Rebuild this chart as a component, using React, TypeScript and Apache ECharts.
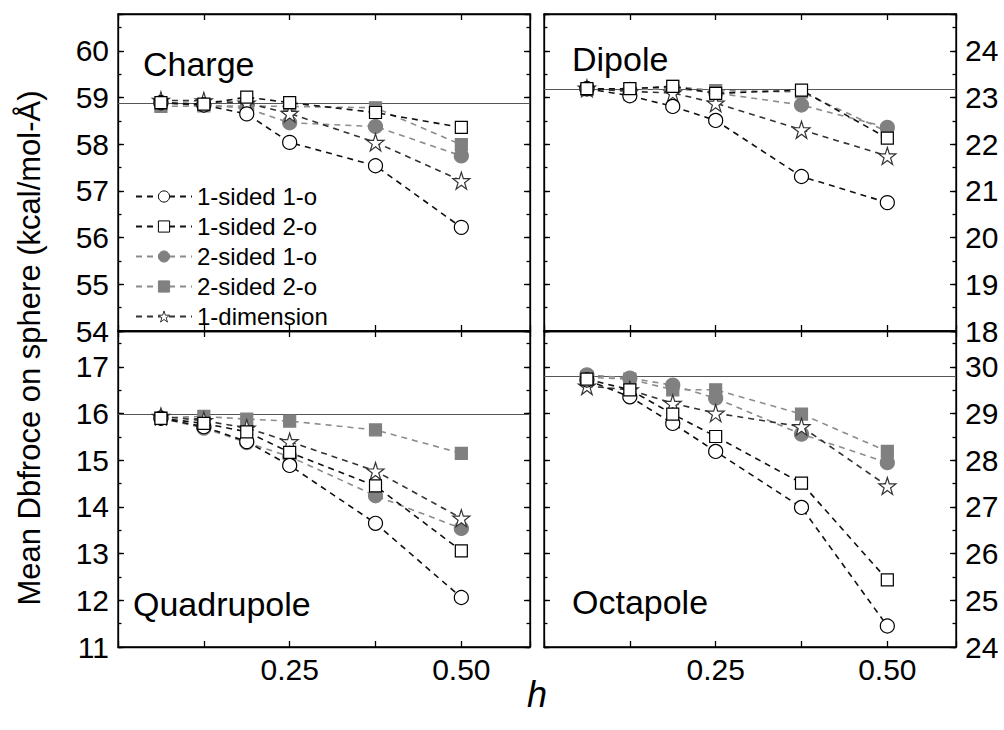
import React, { useEffect, useRef } from 'react';
import * as echarts from 'echarts';

// ---------- data ----------
const hValues = [0.0625, 0.125, 0.1875, 0.25, 0.375, 0.5];
const seriesNames = ['1-sided 1-o', '1-sided 2-o', '2-sided 1-o', '2-sided 2-o', '1-dimension'];
const panelTitles = ['Charge', 'Dipole', 'Quadrupole', 'Octapole'];

const charge1s1o = [58.89, 58.84, 58.65, 58.04, 57.54, 56.22];
const charge1s2o = [58.89, 58.86, 59.01, 58.89, 58.68, 58.36];
const charge2s1o = [58.88, 58.84, 58.77, 58.46, 58.38, 57.75];
const charge2s2o = [58.81, 58.82, 58.82, 58.81, 58.78, 57.99];
const charge1d = [58.94, 58.93, 58.88, 58.66, 58.04, 57.22];

const dipole1s1o = [23.19, 23.04, 22.81, 22.51, 21.31, 20.75];
const dipole1s2o = [23.19, 23.19, 23.24, 23.09, 23.16, 22.13];
const dipole2s1o = [23.19, 23.16, 23.2, 23.1, 22.84, 22.36];
const dipole2s2o = [23.17, 23.18, 23.24, 23.15, 23.12, 22.27];
const dipole1d = [23.2, 23.13, 23.1, 22.88, 22.31, 21.75];

const quad1s1o = [15.9, 15.72, 15.4, 14.89, 13.65, 12.06];
const quad1s2o = [15.9, 15.79, 15.61, 15.17, 14.45, 13.06];
const quad2s1o = [15.9, 15.69, 15.38, 15.08, 14.24, 13.54];
const quad2s2o = [15.91, 15.94, 15.88, 15.84, 15.65, 15.15];
const quad1d = [15.94, 15.85, 15.69, 15.4, 14.77, 13.76];

const oct1s1o = [29.72, 29.36, 28.79, 28.19, 26.99, 24.45];
const oct1s2o = [29.74, 29.51, 28.99, 28.51, 27.51, 25.44];
const oct2s1o = [29.83, 29.76, 29.61, 29.33, 28.56, 27.95];
const oct2s2o = [29.78, 29.74, 29.51, 29.51, 28.99, 28.19];
const oct1d = [29.59, 29.51, 29.22, 29.01, 28.72, 27.45];

const panelData = [
  [charge1s1o, charge1s2o, charge2s1o, charge2s2o, charge1d],
  [dipole1s1o, dipole1s2o, dipole2s1o, dipole2s2o, dipole1d],
  [quad1s1o, quad1s2o, quad2s1o, quad2s2o, quad1d],
  [oct1s1o, oct1s2o, oct2s1o, oct2s2o, oct1d],
];
const yMins = [54, 18, 11, 24];
const yMaxs = [60.79, 24.79, 17.77, 30.77];
const refLines = [58.88, 23.18, 15.98, 29.81];

// ---------- styles ----------
const FONT = '"Liberation Sans", Arial, Helvetica, sans-serif';
const STAR =
  'path://M50,2 L61.2,36.6 L97.6,36.6 L68.2,58 L79.4,92.6 L50,71.2 L20.6,92.6 L31.8,58 L2.4,36.6 L38.8,36.6 Z';
const seriesStyles = [
  { symbol: 'circle', size: 14, fill: '#ffffff', border: '#000000', line: '#111111' },
  { symbol: 'rect', size: 12, fill: '#ffffff', border: '#000000', line: '#111111' },
  { symbol: 'circle', size: 14, fill: '#808080', border: '#808080', line: '#8c8c8c' },
  { symbol: 'rect', size: 12, fill: '#808080', border: '#808080', line: '#8c8c8c' },
  { symbol: STAR, size: 17, fill: '#ffffff', border: '#333333', line: '#333333' },
];
const gridRects = [
  { left: 118, top: 14, width: 412, height: 317 },
  { left: 544, top: 14, width: 412, height: 317 },
  { left: 118, top: 331, width: 412, height: 316 },
  { left: 544, top: 331, width: 412, height: 316 },
];
const titlePos = [
  { x: 143, y: 64 },
  { x: 572, y: 59 },
  { x: 133, y: 604 },
  { x: 572, y: 602 },
];

const axisLineStyle = { color: '#000', width: 1.3 };

function intFormatter(v: number) {
  return Math.abs(v - Math.round(v)) < 1e-6 ? String(Math.round(v)) : '';
}
function hFormatter(v: number) {
  if (Math.abs(v - 0.25) < 1e-6) return '0.25';
  if (Math.abs(v - 0.5) < 1e-6) return '0.50';
  return '';
}

function buildOption() {
  const grid: any[] = [];
  const xAxis: any[] = [];
  const yAxis: any[] = [];
  const series: any[] = [];

  for (let p = 0; p < 4; p++) {
    grid.push({ ...gridRects[p], show: true, borderColor: '#000', borderWidth: 1.3, containLabel: false });
    for (const pos of ['bottom', 'top']) {
      xAxis.push({
        type: 'value',
        gridIndex: p,
        position: pos,
        min: 0,
        max: 0.6,
        interval: 0.125,
        axisLine: { onZero: false, lineStyle: axisLineStyle },
        axisTick: { inside: true, length: 6, lineStyle: axisLineStyle },
        axisLabel: {
          show: pos === 'bottom' && p >= 2,
          formatter: hFormatter,
          fontSize: 30,
          color: '#000',
          fontFamily: FONT,
          margin: 7,
        },
        splitLine: { show: false },
      });
    }
    for (const pos of ['left', 'right']) {
      const labeled = (pos === 'left' && p % 2 === 0) || (pos === 'right' && p % 2 === 1);
      yAxis.push({
        type: 'value',
        gridIndex: p,
        position: pos,
        min: yMins[p],
        max: yMaxs[p],
        interval: 1,
        axisLine: { onZero: false, lineStyle: axisLineStyle },
        axisTick: { inside: true, length: 6, lineStyle: axisLineStyle },
        axisLabel: {
          show: labeled,
          formatter: intFormatter,
          fontSize: 30,
          color: '#000',
          fontFamily: FONT,
          margin: 9,
        },
        splitLine: { show: false },
      });
    }
    for (const pos of ['left', 'right']) {
      yAxis.push({
        type: 'value',
        gridIndex: p,
        position: pos,
        min: yMins[p],
        max: yMaxs[p],
        interval: 0.5,
        axisLine: { show: false, onZero: false },
        axisTick: { inside: true, length: 3.5, lineStyle: axisLineStyle },
        axisLabel: { show: false },
        splitLine: { show: false },
      });
    }

    panelData[p].forEach((vals, s) => {
      const st = seriesStyles[s];
      const item: any = {
        type: 'line',
        name: seriesNames[s],
        xAxisIndex: 2 * p,
        yAxisIndex: 4 * p,
        data: hValues.map((h, i) => [h, vals[i]]),
        symbol: st.symbol,
        symbolSize: st.size,
        showAllSymbol: true,
        itemStyle: { color: st.fill, borderColor: st.border, borderWidth: 1.2 },
        lineStyle: { color: st.line, width: 1.6, type: [6, 5] },
        z: 3 + (s < 2 ? 1 : 0),
      };
      if (s === 0) {
        item.markLine = {
          silent: true,
          symbol: 'none',
          label: { show: false },
          lineStyle: { color: '#555', width: 1, type: 'solid' },
          data: [{ yAxis: refLines[p] }],
          z: 1,
        };
      }
      series.push(item);
    });
  }

  const graphic: any[] = panelTitles.map((t, p) => ({
    type: 'text',
    x: titlePos[p].x,
    y: titlePos[p].y,
    style: {
      text: t,
      fontSize: 34,
      fontFamily: FONT,
      fill: '#000',
      align: 'left',
      verticalAlign: 'middle',
      textAlign: 'left',
      textVerticalAlign: 'middle',
    },
    z: 10,
  }));
  graphic.push({
    type: 'text',
    x: 29,
    y: 348,
    rotation: Math.PI / 2,
    style: {
      text: 'Mean Dbfroce on sphere (kcal/mol-Å)',
      fontSize: 31,
      fontFamily: FONT,
      fill: '#000',
      align: 'center',
      verticalAlign: 'middle',
      textAlign: 'center',
      textVerticalAlign: 'middle',
    },
  });
  graphic.push({
    type: 'text',
    x: 537,
    y: 694,
    style: {
      text: 'h',
      fontSize: 36,
      fontStyle: 'italic',
      fontFamily: FONT,
      fill: '#000',
      align: 'center',
      verticalAlign: 'middle',
      textAlign: 'center',
      textVerticalAlign: 'middle',
    },
  });

  const legendData = seriesNames.map((n, s) => ({
    name: n,
    itemStyle: {
      color: seriesStyles[s].fill,
      borderColor: seriesStyles[s].border,
      borderWidth: 1,
    },
  }));

  return {
    animation: false,
    backgroundColor: '#ffffff',
    grid,
    xAxis,
    yAxis,
    series,
    graphic,
    legend: {
      data: legendData,
      orient: 'vertical',
      left: 135,
      top: 184,
      padding: 0,
      itemGap: 5,
      itemWidth: 56,
      itemHeight: 14,
      textStyle: { fontSize: 24, color: '#000', fontFamily: FONT, lineHeight: 25 },
    },
  };
}

export default function App() {
  const ref = useRef<HTMLDivElement>(null);
  useEffect(() => {
    if (!ref.current) return;
    const chart = echarts.init(ref.current, undefined, { renderer: 'svg' });
    chart.setOption(buildOption() as any);
    return () => chart.dispose();
  }, []);
  return (
    <div
      ref={ref}
      style={{ position: 'absolute', left: 0, top: 0, width: 1004, height: 730, background: '#fff' }}
    />
  );
}
